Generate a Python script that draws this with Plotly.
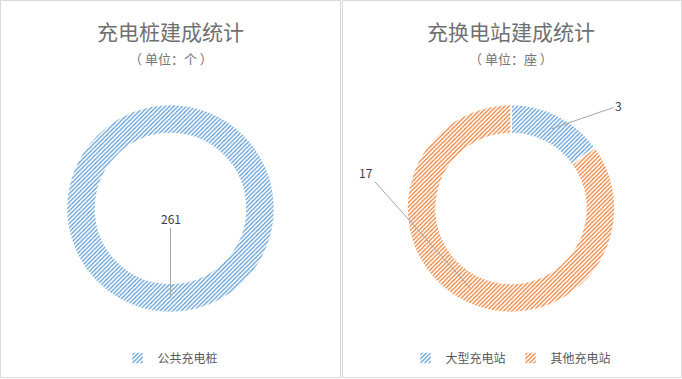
import math
import plotly.graph_objects as go

# ---------------- data ----------------
left_title = "充电桩建成统计"
left_unit = "（ 单位：个 ）"
left_labels = ["公共充电桩"]
left_values = [261]

right_title = "充换电站建成统计"
right_unit = "（ 单位：座 ）"
right_labels = ["大型充电站", "其他充电站"]
right_values = [3, 17]

# ---------------- styles ----------------
W, H = 682, 379
FONT = "Noto Sans CJK SC, Noto Sans, sans-serif"
BLUE = "#5B9BD5"
ORANGE = "#ED7D31"
R_OUT, R_IN = 104, 75
HOLE = R_IN / R_OUT
centers = [(170.5, 208.5), (511, 208.5)]
# label offsets (pixels) relative to the slice anchor point
left_offsets = [(0, -80)]
right_offsets = [(67, -23), (-104, -116)]


def domain(cx, cy):
    return dict(x=[(cx - R_OUT) / W, (cx + R_OUT) / W],
                y=[1 - (cy + R_OUT) / H, 1 - (cy - R_OUT) / H])


PAT = dict(shape="/", bgcolor="#ffffff", size=3, solidity=0.42)

fig = go.Figure()
fig.add_trace(go.Pie(
    labels=left_labels, values=left_values, hole=HOLE, sort=False,
    direction="clockwise", rotation=0, textinfo="none", hoverinfo="label+value",
    domain=domain(*centers[0]),
    marker=dict(colors=[BLUE], pattern=dict(fgcolor=[BLUE], **PAT),
                line=dict(color="white", width=1.5)),
    legend="legend",
))
fig.add_trace(go.Pie(
    labels=right_labels, values=right_values, hole=HOLE, sort=False,
    direction="clockwise", rotation=0, textinfo="none", hoverinfo="label+value",
    domain=domain(*centers[1]),
    marker=dict(colors=[BLUE, ORANGE], pattern=dict(fgcolor=[BLUE, ORANGE], **PAT),
                line=dict(color="white", width=1.5)),
    legend="legend2",
))

annotations = []
r_mid = (R_OUT + R_IN) / 2
for (cx, cy), vals, offs in [(centers[0], left_values, left_offsets),
                             (centers[1], right_values, right_offsets)]:
    total = sum(vals)
    cum = 0
    for v, (ax, ay) in zip(vals, offs):
        theta = 2 * math.pi * (cum + v / 2) / total
        cum += v
        px = cx + r_mid * math.sin(theta)
        py = cy - r_mid * math.cos(theta)
        annotations.append(dict(
            x=px / W, y=1 - py / H, xref="paper", yref="paper",
            text=str(v), showarrow=True, arrowhead=0, arrowwidth=1,
            arrowcolor="#a6a6a6", ax=ax, ay=ay, standoff=0,
            font=dict(family=FONT, size=12, color="#404040"),
        ))

for (cx, _), title, unit in [(centers[0], left_title, left_unit),
                             (centers[1], right_title, right_unit)]:
    annotations.append(dict(x=cx / W, y=1 - 31 / H, xref="paper", yref="paper",
                            text=title, showarrow=False, xanchor="center", yanchor="middle",
                            font=dict(family=FONT, size=21, color="#707070")))
    annotations.append(dict(x=cx / W, y=1 - 59 / H, xref="paper", yref="paper",
                            text=unit, showarrow=False, xanchor="center", yanchor="middle",
                            font=dict(family=FONT, size=13, color="#757575")))

shapes = [
    dict(type="rect", xref="paper", yref="paper", x0=0.5 / W, x1=340.5 / W,
         y0=1 - 377.5 / H, y1=1 - 0.5 / H, line=dict(color="#d9d9d9", width=1)),
    dict(type="rect", xref="paper", yref="paper", x0=342.5 / W, x1=681.5 / W,
         y0=1 - 377.5 / H, y1=1 - 0.5 / H, line=dict(color="#d9d9d9", width=1)),
]

legend_style = dict(orientation="h", xanchor="center", yanchor="middle",
                    font=dict(family=FONT, size=12, color="#595959"),
                    bgcolor="rgba(0,0,0,0)", itemwidth=30, tracegroupgap=0)
fig.update_layout(
    width=W, height=H, margin=dict(l=0, r=0, t=0, b=0),
    paper_bgcolor="white", plot_bgcolor="white",
    annotations=annotations, shapes=shapes,
    legend=dict(x=centers[0][0] / W, y=1 - 358 / H, **legend_style),
    legend2=dict(x=centers[1][0] / W, y=1 - 358 / H, **legend_style),
    font=dict(family=FONT),
)

fig.write_html("out.html")
